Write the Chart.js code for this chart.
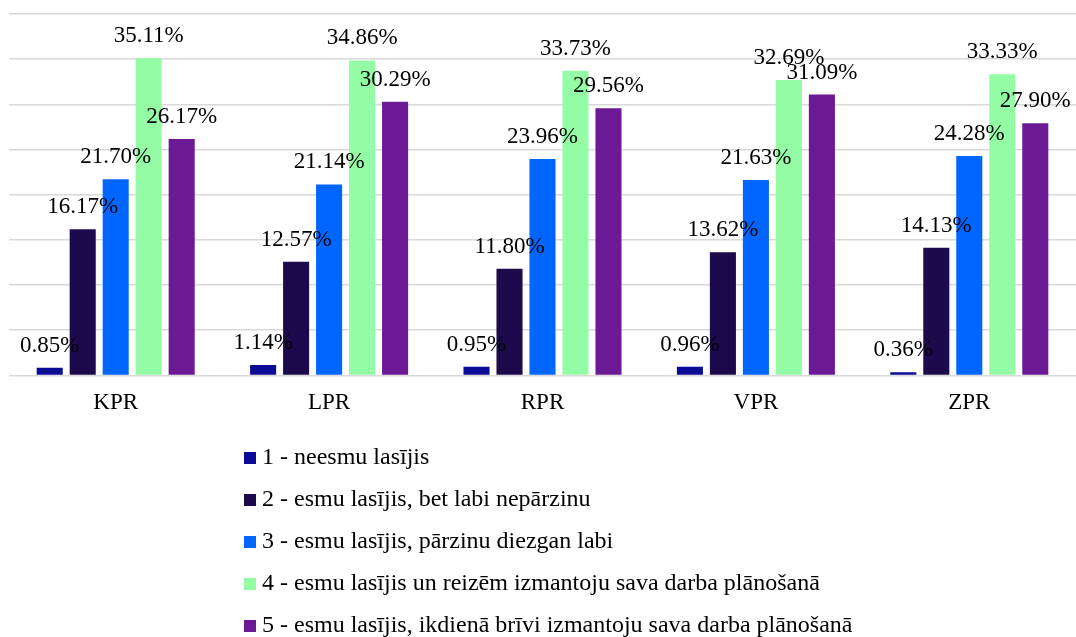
<!DOCTYPE html>
<html>
<head>
<meta charset="utf-8">
<script src="https://cdn.jsdelivr.net/npm/chart.js@4"></script>
<style>
  html, body { margin: 0; padding: 0; background: #fff; }
  #wrap { position: relative; width: 1076px; height: 637px; }
  #legend { position: absolute; left: 244px; top: 435px; font: 24px "Liberation Serif", "Times New Roman", serif; color: #000; }
  #legend .row { height: 42px; line-height: 42px; white-space: nowrap; }
  #legend .box { display: inline-block; width: 12px; height: 12px; margin-right: 6px; vertical-align: 0px; }
</style>
</head>
<body>
<div id="wrap">
  <canvas id="chart" width="1076" height="637"></canvas>
  <div id="legend"></div>
</div>
<script>
// regioni
const categories = ["KPR", "LPR", "RPR", "VPR", "ZPR"];

const seriesLabels = [
  "1 - neesmu lasījis",
  "2 - esmu lasījis, bet labi nepārzinu",
  "3 - esmu lasījis, pārzinu diezgan labi",
  "4 - esmu lasījis un reizēm izmantoju sava darba plānošanā",
  "5 - esmu lasījis, ikdienā brīvi izmantoju sava darba plānošanā",
];

const s1 = [0.85, 1.14, 0.95, 0.96, 0.36];
const s2 = [16.17, 12.57, 11.8, 13.62, 14.13];
const s3 = [21.7, 21.14, 23.96, 21.63, 24.28];
const s4 = [35.11, 34.86, 33.73, 32.69, 33.33];
const s5 = [26.17, 30.29, 29.56, 31.09, 27.9];

const colors = ["#0b0b96", "#1c0a4d", "#0066ff", "#94fca4", "#6c1996"];

const FONT = '"Liberation Serif", "Times New Roman", serif';

// vērtību etiķetes virs stabiņiem
const valueLabels = {
  id: "valueLabels",
  afterDatasetsDraw(chart) {
    const ctx = chart.ctx;
    ctx.save();
    ctx.font = "23px " + FONT;
    ctx.fillStyle = "#000";
    ctx.textAlign = "center";
    ctx.textBaseline = "alphabetic";
    chart.data.datasets.forEach((ds, i) => {
      const meta = chart.getDatasetMeta(i);
      meta.data.forEach((bar, j) => {
        ctx.fillText(ds.data[j].toFixed(2) + "%", bar.x, bar.y - 16);
      });
    });
    ctx.restore();
  },
};

const allSeries = [s1, s2, s3, s4, s5];

const chart = new Chart(document.getElementById("chart"), {
  type: "bar",
  data: {
    labels: categories,
    datasets: allSeries.map((d, i) => ({
      label: seriesLabels[i],
      data: d,
      backgroundColor: colors[i],
      barPercentage: 0.79,
      categoryPercentage: 0.773,
    })),
  },
  options: {
    responsive: false,
    animation: false,
    layout: { padding: { left: 9, right: 0, top: 14, bottom: 214 } },
    plugins: { legend: { display: false }, tooltip: { enabled: false } },
    scales: {
      x: {
        grid: { display: false },
        border: { display: false },
        ticks: { color: "#000", font: { family: FONT, size: 23 }, padding: 6 },
      },
      y: {
        min: 0,
        max: 40,
        ticks: { display: false, stepSize: 5 },
        border: { display: false },
        grid: { color: "#d9d9d9", lineWidth: 1.5, drawTicks: false },
      },
    },
  },
  plugins: [valueLabels],
});

document.getElementById("legend").innerHTML = chart.data.datasets
  .map((ds) => `<div class="row"><span class="box" style="background:${ds.backgroundColor}"></span>${ds.label}</div>`)
  .join("");
</script>
</body>
</html>
